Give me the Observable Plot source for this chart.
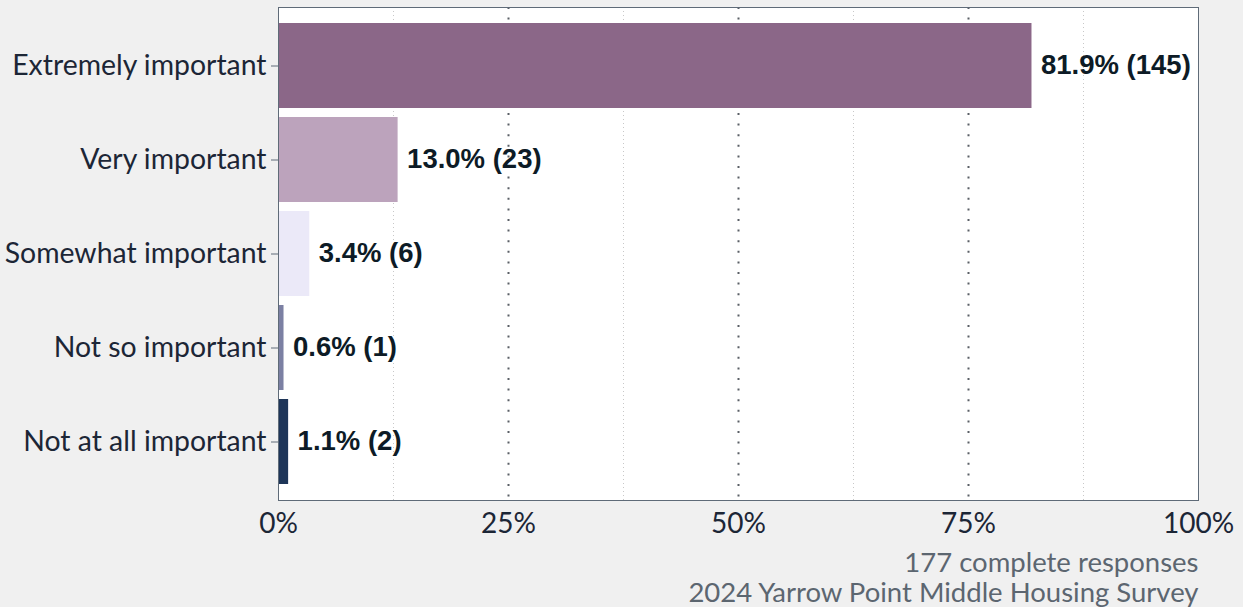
<!DOCTYPE html>
<html>
<head>
<meta charset="utf-8">
<script src="https://cdn.jsdelivr.net/npm/d3@7"></script>
<script src="https://cdn.jsdelivr.net/npm/@observablehq/plot@0.6"></script>
<style>
  html, body { margin: 0; padding: 0; background: #f0f0f0; }
  #chart svg { display: block; background: #f0f0f0; }
</style>
</head>
<body>
<div id="chart"></div>
<script>
const categories = ["Extremely important", "Very important", "Somewhat important", "Not so important", "Not at all important"];
const percents = [81.9, 13.0, 3.4, 0.6, 1.1];
const counts = [145, 23, 6, 1, 2];
const colors = ["#8b6788", "#bca3bc", "#ebe9f8", "#7c80a3", "#1e3558"];
const xTicks = [0, 0.25, 0.5, 0.75, 1];
const xMinor = [0.125, 0.375, 0.625, 0.875];
const captionLines = ["177 complete responses", "2024 Yarrow Point Middle Housing Survey"];

const data = categories.map((c, i) => ({
  category: c,
  share: percents[i] / 100,
  label: `${percents[i].toFixed(1)}% (${counts[i]})`
}));

const chart = Plot.plot({
  width: 1243,
  height: 607,
  marginLeft: 278,
  marginRight: 45,
  marginTop: 7,
  marginBottom: 107,
  style: { background: "#f0f0f0", fontFamily: "Lato", overflow: "visible" },
  x: { domain: [0, 1], axis: null },
  y: { domain: categories, paddingInner: 0.1, paddingOuter: 0.15, axis: null },
  color: { domain: categories, range: colors },
  marks: [
    Plot.frame({ fill: "white", stroke: null }),
    Plot.ruleX(xMinor, { stroke: "#c8c8c8", strokeWidth: 1, strokeDasharray: "1,3" }),
    Plot.ruleX([0.25, 0.5, 0.75], { stroke: "#5a5f66", strokeWidth: 2, strokeDasharray: "2,8.6" }),
    Plot.barX(data, { x: "share", y: "category", fill: "category" }),
    Plot.text(data, {
      x: "share", y: "category", text: "label", textAnchor: "start", dx: 9, dy: -1,
      fontFamily: "Liberation Sans, Arial, sans-serif", fontWeight: "bold", fontSize: 27.5, fill: "#0d1b26"
    }),
    Plot.axisY({ tickSize: 7, tickPadding: 5, fontSize: 28.4, color: "#1c2636", stroke: "#5f6b78", label: null }),
    Plot.axisX(xTicks, { tickSize: 0, tickPadding: 13, fontSize: 28, color: "#1c2636", tickFormat: d => `${Math.round(d * 100)}%`, label: null }),
    Plot.frame({ stroke: "#5f6b78", strokeWidth: 1 }),
    Plot.text([captionLines[0]], { frameAnchor: "bottom-right", text: d => d, dy: 71, dx: 0, fontSize: 27.5, fill: "#5c6670", textAnchor: "end" }),
    Plot.text([captionLines[1]], { frameAnchor: "bottom-right", text: d => d, dy: 101, dx: 0, fontSize: 27.5, fill: "#5c6670", textAnchor: "end" })
  ]
});
document.getElementById("chart").appendChild(chart);
</script>
</body>
</html>
